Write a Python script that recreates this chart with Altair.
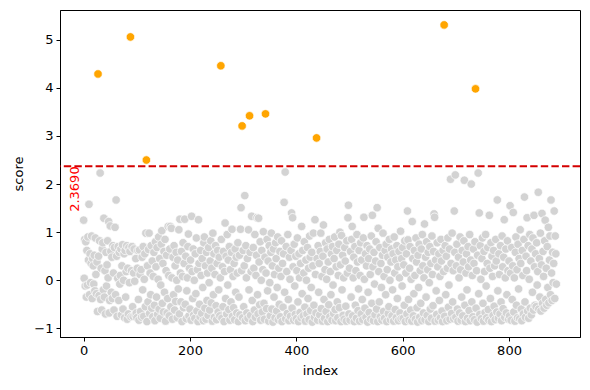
import altair as alt
import pandas as pd

threshold = [2.369]
threshold_label = ["2.3690"]

block0 = [1.25, 0.04, 0.85, -0.12, 0.80, -0.35, 0.62, -0.10, 0.90, 0.42,
          1.58, -0.30, 0.55, -0.05, 0.35, 0.92, -0.38, 0.45, 0.30, -0.08,
          0.52, -0.22, 0.88, 0.12, -0.28, 0.38, -0.65, 4.29, 0.50, -0.32,
          0.82, 2.23, -0.40, 0.25, -0.62, 0.65, 0.78, -0.20, 1.29, -0.35,
          0.20, -0.70, 0.58, -0.12, 0.32, 0.82, 0.05, 1.22, -0.68, -0.42,
          1.13, 0.60, -0.25, 0.48, -0.38, 0.72, 0.15, -0.62, 0.68, 1.10,
          -0.30, 1.67, 0.50, -0.75, 0.04, 0.70, -0.42, 0.58, -0.08, 0.10,
          0.65, -0.72, 0.30, 0.74, -0.60, 0.00, 0.55, -0.78, 0.62, -0.35,
          0.18, 0.72, -0.81, 0.25, -0.70, 0.68, -0.05, 0.60, 5.06, -0.76,
          0.20, 0.70, -0.55, -0.75, 0.15, 0.65, -0.02, -0.72, 0.45, -0.68]
block1 = [-0.78, 0.25, 0.62, -0.40, -0.83, 0.63, 0.12, -0.65, 0.22, -0.77,
          0.48, -0.20, 0.70, -0.75, 0.02, 0.55, -0.55, 0.98, 2.50, -0.86,
          0.30, -0.45, 0.64, 0.98, -0.69, 0.15, -0.30, 0.72, -0.58, 0.40,
          -0.76, 0.08, 0.58, -0.52, -0.84, 0.80, 0.28, -0.35, 0.68, -0.71,
          0.02, 0.90, -0.60, 0.45, -0.79, -0.10, 0.75, 1.03, -0.48, 0.35,
          -0.66, 0.60, -0.25, 0.85, -0.85, 0.20, 0.52, -0.68, -0.38, 1.12,
          0.10, -0.74, 0.65, 1.12, -0.55, 1.08, 0.05, -0.81, 0.48, -0.30,
          0.72, -0.62, 0.30, -0.44, 0.58, 0.00, -0.78, 0.42, -0.18, 1.05,
          -0.70, 1.27, 0.15, -0.45, 0.60, -0.86, 0.08, 0.78, -0.57, 0.35,
          1.27, -0.50, 0.50, -0.80, -0.22, 0.05, 0.70, 0.96, -0.74, 0.25]
block2 = [-0.60, 0.42, -0.83, 1.33, 0.18, -0.38, 0.65, -0.72, 0.00, -0.79,
          0.55, -0.28, 0.88, -0.64, 0.22, -0.86, 1.26, 0.35, -0.50, -0.76,
          0.62, 0.10, -0.69, 0.45, -0.15, -0.84, 0.78, 0.90, -0.58, 0.30,
          -0.81, 0.58, -0.42, 0.15, -0.73, 0.68, -0.05, -0.62, 0.40, 0.82,
          -0.47, 0.25, -0.85, 0.98, -0.30, 0.55, -0.77, 0.12, 0.72, -0.53,
          -0.82, 0.35, 0.62, -0.66, -0.20, 0.48, -0.74, 0.05, 4.46, 0.85,
          -0.79, 0.28, -0.55, 0.60, -0.86, 0.18, 1.19, -0.38, 0.50, -0.70,
          0.95, -0.10, 0.42, -0.61, 0.70, -0.83, 0.22, -0.45, 0.58, 1.06,
          -0.75, 0.08, -0.57, 0.35, -0.82, 0.65, -0.25, 0.48, -0.68, 0.15,
          0.78, -0.86, -0.35, 0.52, -0.72, 1.06, 1.51, 0.20, 3.21, -0.78]
block3 = [0.62, -0.55, 0.30, 1.76, -0.84, 0.72, 0.05, -0.68, 0.45, -0.79,
          1.05, -0.20, 3.42, 0.58, -0.73, 0.18, 1.33, -0.42, -0.86, 0.68,
          0.25, -0.62, 0.95, -0.77, 0.10, 0.52, 1.30, -0.30, -0.70, 1.29,
          0.38, -0.51, 0.80, -0.83, 0.00, 0.62, -0.66, 0.22, 1.01, -0.48,
          -0.81, 0.48, 3.46, 0.15, -0.59, 0.85, -0.22, 0.40, -0.85, 0.72,
          -0.05, -0.74, 0.58, 0.98, -0.60, 0.30, -0.87, 0.65, -0.35, 0.12,
          -0.78, 0.78, 0.45, -0.64, -0.15, 0.90, -0.82, 0.25, -0.50, 0.60,
          -0.76, 0.08, 0.82, -0.86, 0.35, -0.56, 0.55, 1.62, -0.25, 2.25,
          -0.80, 0.70, 0.18, -0.69, 0.95, -0.40, -0.84, 0.48, 0.02, -0.75,
          0.62, 1.40, -0.58, 1.30, 0.28, -0.83, 0.75, -0.12, -0.71, 0.50]
block4 = [-0.80, 0.20, 0.88, -0.45, -0.86, 0.55, 0.05, -0.67, 0.35, -0.78,
          1.12, -0.28, 0.62, -0.74, 0.15, 0.80, -0.56, -0.85, 0.42, 0.00,
          -0.70, 0.68, -0.38, 0.25, -0.82, 0.92, 0.48, -0.63, -0.15, 0.58,
          -0.87, 0.30, 0.98, -0.52, -0.77, 1.26, 0.12, -0.68, 2.96, 0.45,
          -0.83, 0.72, -0.25, 0.35, -0.72, 0.60, 0.98, -0.59, 0.08, -0.85,
          0.50, 1.15, -0.40, -0.79, 0.22, 0.78, -0.65, 0.02, 0.65, -0.86,
          0.38, -0.51, 0.85, -0.76, 0.18, -0.30, 0.55, -0.83, 0.70, -0.10,
          -0.69, 0.45, 0.90, -0.61, -0.84, 0.28, 0.62, -0.45, -0.78, 0.10,
          0.75, -0.57, 1.00, 0.32, -0.86, 0.93, -0.20, 0.52, -0.73, 0.05,
          -0.81, 0.68, 0.40, -0.54, -0.85, 0.82, 0.15, 1.30, 1.56, -0.70]
block5 = [0.25, -0.83, 0.60, -0.35, 0.85, 1.12, -0.74, 0.05, 0.48, -0.86,
          0.70, -0.52, 0.20, -0.79, 0.95, 0.38, -0.63, -0.18, 0.62, -0.85,
          0.10, 0.78, -0.70, 0.42, -0.40, -0.82, 0.88, 1.31, 0.02, -0.58,
          0.55, -0.77, 0.30, 0.72, -0.87, -0.25, 0.45, -0.67, 0.65, 0.12,
          -0.81, 0.92, -0.48, 1.35, 0.28, -0.84, 0.58, -0.08, -0.72, 0.40,
          0.80, -0.60, 1.51, -0.86, 1.08, 0.18, -0.45, 0.68, -0.76, 0.35,
          -0.15, -0.83, 0.52, 0.98, -0.65, 0.08, -0.79, 0.62, -0.30, 0.75,
          -0.86, 0.22, 0.48, -0.69, -0.55, 0.85, 0.00, -0.82, 0.38, 0.65,
          -0.74, -0.20, 0.55, -0.85, 0.90, 0.15, -0.61, 0.42, -0.78, 0.72,
          -0.38, 0.28, -0.84, 0.60, 0.05, -0.68, 1.02, -0.80, 0.45, -0.12]
block6 = [0.68, -0.79, 0.32, -0.52, 0.82, -0.86, 0.15, 0.55, -0.70, 1.44,
          0.84, -0.40, -0.83, 0.25, 0.70, -0.62, 0.02, -0.85, 1.22, 0.45,
          -0.74, -0.28, 0.62, 0.10, -0.81, 0.88, 0.38, -0.57, -0.87, 0.52,
          -0.15, 0.75, -0.77, 0.20, -0.48, 0.65, -0.84, 0.95, 0.30, -0.68,
          0.05, 1.17, -0.82, 0.48, -0.35, 0.80, -0.73, 0.22, 0.58, -0.86,
          -0.05, 0.70, -0.60, 0.35, -0.79, 0.92, 0.12, -0.53, 0.60, 1.38,
          1.31, -0.85, 0.42, -0.22, -0.71, 0.78, 0.28, -0.83, 0.55, -0.42,
          0.08, -0.78, 0.85, 0.40, -0.64, -0.86, 0.62, 0.18, 5.31, -0.75,
          0.72, -0.30, 0.50, -0.84, 0.25, 0.88, -0.56, -0.10, 0.65, -0.81,
          2.10, 0.35, -0.69, 0.98, -0.45, 0.20, -0.80, 1.44, 0.58, 2.19]
block7 = [-0.77, 0.30, 0.75, -0.60, -0.85, 0.48, 0.05, -0.68, 0.90, 0.22,
          -0.83, -0.35, 0.62, -0.74, 0.38, 0.82, 2.08, -0.52, -0.86, 0.15,
          0.55, -0.20, -0.79, 0.70, 0.28, -0.63, 0.95, -0.84, 0.42, 2.00,
          -0.45, 0.10, -0.76, 0.65, 0.35, -0.82, 0.80, 3.98, -0.58, 0.20,
          -0.87, 0.52, 2.23, -0.28, 1.40, -0.71, 0.72, 0.02, -0.80, 0.45,
          0.88, -0.48, -0.85, 0.60, 0.18, -0.67, 0.95, -0.12, -0.78, 0.35,
          0.68, -0.61, -0.83, 1.35, 0.25, -0.38, 0.78, -0.86, 0.50, 0.08,
          -0.73, 0.62, -0.54, 0.30, -0.82, 0.85, 0.40, -0.66, 1.67, -0.22,
          -0.79, 0.55, 0.12, -0.70, 0.72, -0.45, -0.84, 0.92, 0.28, -0.59,
          0.48, 1.26, -0.77, 0.05, 0.65, -0.68, -0.30, 0.82, 0.20, -0.81]
block8 = [0.40, -0.74, 1.55, 0.15, -0.83, 0.68, -0.40, 0.30, 1.41, -0.66,
          0.05, -0.85, 0.58, 0.90, -0.52, 0.22, -0.78, 0.75, -0.18, 0.45,
          -0.80, 1.05, 0.35, -0.60, -0.84, 0.62, 0.10, -0.70, 0.85, 1.73,
          -0.45, -0.77, 0.50, 0.20, 1.30, -0.64, 0.72, -0.79, 0.02, 0.95,
          -0.58, 0.40, -0.72, 0.65, -0.25, 0.88, -0.62, 1.35, 0.28, -0.52,
          0.55, -0.55, 0.78, -0.10, 0.18, 1.83, -0.60, 0.45, -0.35, 0.98,
          -0.64, 0.32, 1.39, -0.48, 0.60, 0.08, -0.58, 0.82, 1.25, -0.40,
          0.25, -0.52, 0.70, -0.15, 1.10, -0.47, 0.42, 0.92, -0.30, 1.67,
          0.15, -0.42, 0.58, -0.05, 0.35, 1.44, -0.38, 0.92, 0.55, -0.08]

score = block0 + block1 + block2 + block3 + block4 + block5 + block6 + block7 + block8
df = pd.DataFrame({"index": list(range(len(score))), "score": score})
thr_df = pd.DataFrame({"thr": threshold, "label": threshold_label, "xpos": [-16]})

FONT = "DejaVu Sans"

xscale = alt.Scale(domain=[-44.5, 933.5], nice=False, zero=False)
yscale = alt.Scale(domain=[-1.18, 5.62], nice=False, zero=False)

points = alt.Chart(df).mark_point(
    filled=True, shape="circle", size=72, stroke="white", strokeWidth=0.7, opacity=1
).encode(
    x=alt.X("index:Q", scale=xscale,
            axis=alt.Axis(title="index", values=[0, 200, 400, 600, 800], format="d")),
    y=alt.Y("score:Q", scale=yscale,
            axis=alt.Axis(title="score", values=[-1, 0, 1, 2, 3, 4, 5], format="d")),
    color=alt.condition(alt.datum.score > threshold[0], alt.value("#ffa500"), alt.value("#d3d3d3")),
)

rule = alt.Chart(thr_df).mark_rule(
    color="#d40000", strokeWidth=2, strokeDash=[7.4, 3.2]
).encode(y=alt.Y("thr:Q", scale=yscale))

label = alt.Chart(thr_df).mark_text(
    angle=270, align="right", baseline="middle", color="red", fontSize=13, font=FONT
).encode(
    x=alt.X("xpos:Q", scale=xscale),
    y=alt.Y("thr:Q", scale=yscale),
    text="label:N",
)

chart = alt.layer(points, rule, label).properties(
    width=520, height=327,
    autosize=alt.AutoSizeParams(type="none"),
    padding={"left": 52, "top": 2, "right": 2, "bottom": 50},
).configure_view(
    stroke="black", strokeWidth=1
).configure_axis(
    grid=False, domainColor="black", tickColor="black", tickSize=4,
    labelColor="black", labelFontSize=13, labelFont=FONT, labelPadding=3,
    titleColor="black", titleFontSize=13, titleFont=FONT, titleFontWeight="normal",
    domainWidth=1, tickWidth=1,
).configure_axisX(titlePadding=7).configure_axisY(titlePadding=8)

chart.save("out.html", embed_options={"renderer": "svg", "actions": False})
